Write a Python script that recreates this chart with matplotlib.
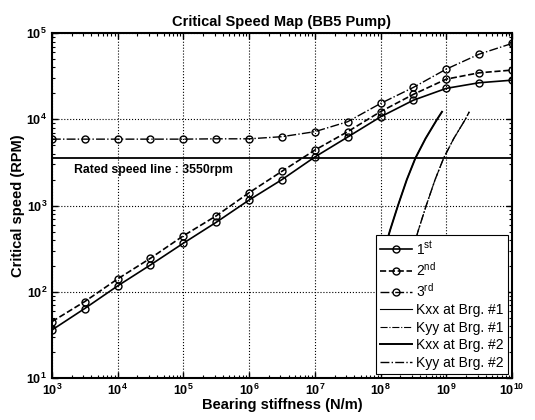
#!/usr/bin/env python3
"""
Critical speed map (BB5 pump): undamped critical speeds vs bearing stiffness,
with bearing stiffness curves and rated speed line.
"""

import numpy as np
import matplotlib
matplotlib.use('Agg')
import matplotlib.pyplot as plt
from matplotlib.ticker import FixedLocator, FuncFormatter, NullFormatter

plt.rcParams['font.family'] = ['Liberation Sans', 'DejaVu Sans']
plt.rcParams['mathtext.default'] = 'regular'

# ---------------------------------------------------------------------------
# Data
# ---------------------------------------------------------------------------
stiffness = [1e3, 3.16e3, 1e4, 3.16e4, 1e5, 3.16e5, 1e6, 3.16e6,
             1e7, 3.16e7, 1e8, 3.16e8, 1e9, 3.16e9, 1e10]
crit_1st = [36, 64, 117, 205, 366, 640, 1160, 2000,
            3660, 6240, 10700, 16700, 22900, 26600, 28500]
crit_2nd = [45, 77, 141, 245, 446, 760, 1410, 2500,
            4400, 7200, 12300, 19500, 29300, 34700, 37300]
crit_3rd = [5900, 5900, 5900, 5900, 5900, 5950, 5950, 6300,
            7200, 9400, 15300, 23500, 38300, 57100, 76000]

rated_speed = 3550

# bearing stiffness vs speed (rpm)
brg_speed = [200, 521, 1000, 2000, 3550, 6000, 10000, 12250]
kxx_brg1 = [9.7e7, 1.40e8, 1.84e8, 2.51e8, 3.39e8, 4.84e8, 7.24e8, 8.61e8]
kyy_brg1 = [2.6e8, 3.77e8, 4.95e8, 6.76e8, 9.12e8, 1.30e9, 1.95e9, 2.24e9]
kxx_brg2 = kxx_brg1
kyy_brg2 = kyy_brg1

x_decades = [1e3, 1e4, 1e5, 1e6, 1e7, 1e8, 1e9, 1e10]
y_decades = [1e1, 1e2, 1e3, 1e4, 1e5]


def decade_label(v, pos):
    return r'10$^{%d}$' % int(round(np.log10(v)))


def minor_ticks(decades):
    out = []
    for d in decades[:-1]:
        out.extend(d * np.arange(2, 10))
    return out


fig = plt.figure(figsize=(5.35, 4.2), dpi=100)
ax = fig.add_axes([0.097, 0.1, 0.86, 0.821])

mk = dict(marker='o', markersize=5, markerfacecolor='none',
          markeredgecolor='black', markeredgewidth=1.0, color='black')
ax.plot(stiffness, crit_1st, '-', lw=1.2, label='1$^{st}$', **mk)
ax.plot(stiffness, crit_2nd, '--', lw=1.2, label='2$^{nd}$', **mk)
ax.plot(stiffness, crit_3rd, '-.', lw=1.0, label='3$^{rd}$', **mk)

ax.plot(kxx_brg1, brg_speed, '-', color='black', lw=0.8, label='Kxx at Brg. #1')
ax.plot(kyy_brg1, brg_speed, '-.', color='black', lw=0.8, label='Kyy at Brg. #1')
ax.plot(kxx_brg2, brg_speed, '-', color='black', lw=1.4, label='Kxx at Brg. #2')
ax.plot(kyy_brg2, brg_speed, '-.', color='black', lw=1.0, label='Kyy at Brg. #2')

ax.axhline(rated_speed, color='black', lw=1.3)
ax.text(2.2e3, 2570, 'Rated speed line : 3550rpm', fontsize=8.8,
        fontweight='bold', va='center', ha='left')

ax.set_xscale('log')
ax.set_yscale('log')
ax.set_xlim(1e3, 1e10)
ax.set_ylim(1e1, 1e5)

for axis, dec in ((ax.xaxis, x_decades), (ax.yaxis, y_decades)):
    axis.set_major_locator(FixedLocator(dec))
    axis.set_minor_locator(FixedLocator(minor_ticks(dec)))
    axis.set_major_formatter(FuncFormatter(decade_label))
    axis.set_minor_formatter(NullFormatter())

ax.tick_params(which='both', direction='in', top=True, right=True)
ax.tick_params(which='major', length=4, width=1.0, labelsize=9)
ax.tick_params(which='minor', length=2, width=0.8)
for lab in ax.get_xticklabels() + ax.get_yticklabels():
    lab.set_fontweight('bold')
for sp in ax.spines.values():
    sp.set_linewidth(1.5)

ax.grid(True, which='major', linestyle=':', color='black', lw=0.8)

ax.set_title('Critical Speed Map (BB5 Pump)', fontsize=10.5, fontweight='bold', pad=5)
ax.set_xlabel('Bearing stiffness (N/m)', fontsize=10.5, fontweight='bold', labelpad=0)
ax.set_ylabel('Critical speed (RPM)', fontsize=10.5, fontweight='bold', labelpad=1)

leg = ax.legend(loc='lower right', fontsize=10, handlelength=2.3,
                framealpha=1, fancybox=False, edgecolor='black',
                borderaxespad=0.3, labelspacing=0.25, handletextpad=0.3,
                borderpad=0.3)
leg.get_frame().set_linewidth(0.8)

fig.savefig('out.png', dpi=100)
plt.close(fig)
